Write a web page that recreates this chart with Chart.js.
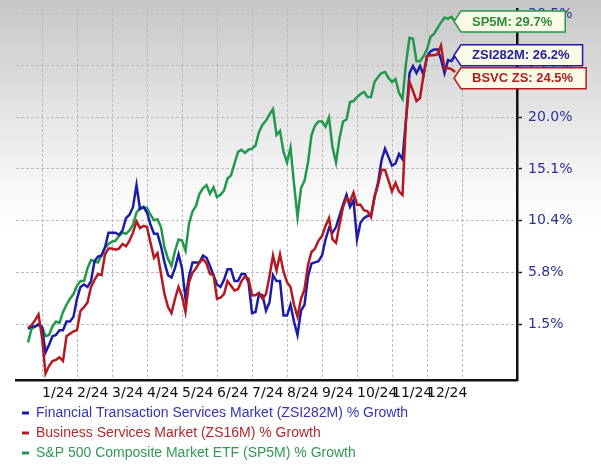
<!DOCTYPE html>
<html>
<head>
<meta charset="utf-8">
<script src="https://cdn.jsdelivr.net/npm/chart.js@4.4.1/dist/chart.umd.min.js"></script>
<style>
  html, body { margin: 0; padding: 0; }
  body {
    width: 601px; height: 470px; overflow: hidden;
    background: linear-gradient(to bottom, #c6c6c6 0px, #dcdcdc 80px, #ececec 140px, #f8f8f8 190px, #ffffff 235px);
  }
</style>
</head>
<body>
<canvas id="chart" width="601" height="470"></canvas>
<script>
"use strict";

// x runs in months from 1 Jan 2024; one sample every 0.1 month
const X_START = -0.4;
const X_STEP = 0.1;
const MONTH_LABELS = ["1/24", "2/24", "3/24", "4/24", "5/24", "6/24", "7/24", "8/24", "9/24", "10/24", "11/24", "12/24"];
const Y_TICKS = [1.5, 5.8, 10.4, 15.1, 20.0, 25.2, 30.5]; // % growth, log spaced

// % growth since start
const ZSI282M = [
  1.1, 1.3, 1.3, 1.5, 1.2, -0.8, -0.2, 0.5, 0.6, 1.0,
  1.0, 1.7, 1.7, 2.1, 3.6, 4.6, 4.8, 4.6, 5.1, 6.8,
  7.2, 7.3, 8.0, 9.3, 9.3, 9.3, 9.1, 9.5, 10.6, 10.9,
  11.6, 13.6, 11.4, 11.6, 11.1, 10.0, 9.2, 9.2, 8.1, 6.7,
  5.6, 5.4, 6.2, 7.4, 6.2, 3.6, 5.5, 6.7, 6.7, 6.7,
  7.3, 7.1, 6.4, 5.6, 4.8, 4.6, 5.2, 6.1, 6.1, 5.1,
  5.1, 5.7, 5.7, 5.0, 2.4, 2.5, 4.0, 3.9, 2.6, 3.3,
  5.6, 5.1, 5.1, 2.2, 2.2, 3.1, 1.7, 0.6, 2.6, 3.1,
  5.5, 6.6, 6.7, 6.8, 7.3, 8.7, 9.7, 9.3, 9.8, 10.8,
  11.8, 12.7, 11.6, 12.2, 8.7, 10.2, 10.6, 10.8, 10.8, 12.5,
  13.8, 15.9, 17.0, 16.2, 15.4, 15.6, 16.5, 16.0, 19.8, 24.4,
  25.1, 24.4, 25.1, 24.2, 26.1, 26.6, 26.8, 26.8, 25.8, 24.4,
  25.7, 25.6, 26.2,
];
const ZS16M = [
  1.2, 1.4, 1.8, 2.3, 0.4, -2.5, -1.9, -1.5, -1.4, -1.2,
  -1.5, 0.5, 0.7, 0.9, 1.0, 2.6, 2.9, 3.3, 4.6, 5.2,
  5.7, 5.6, 7.4, 7.9, 7.9, 7.8, 7.9, 8.3, 8.1, 8.6,
  9.3, 10.3, 9.7, 9.9, 9.8, 8.4, 7.1, 7.5, 5.7, 4.0,
  2.9, 2.4, 3.6, 4.6, 3.8, 2.5, 5.0, 5.8, 6.2, 6.7,
  7.0, 6.6, 5.7, 5.6, 3.6, 3.7, 4.0, 5.1, 4.7, 4.3,
  4.4, 5.1, 5.5, 5.3, 3.9, 3.9, 4.1, 3.6, 4.0, 5.5,
  7.3, 6.0, 7.4, 5.9, 5.0, 4.6, 3.1, 2.1, 3.6, 4.4,
  6.5, 7.6, 7.9, 8.6, 9.0, 9.9, 10.6, 8.7, 8.4, 10.0,
  11.6, 12.4, 12.1, 12.9, 11.8, 11.8, 11.3, 11.2, 10.7, 12.5,
  13.6, 15.0, 15.0, 14.0, 13.0, 13.8, 13.0, 12.7, 19.8, 23.5,
  22.6, 21.6, 21.9, 24.2, 26.1, 26.2, 26.2, 26.3, 27.2, 24.8,
  24.9, 24.8, 24.5,
];
const SP5M = [
  0.0, 1.1, 1.3, 1.4, 1.3, 0.5, 0.6, 1.3, 1.7, 1.6,
  2.5, 3.1, 3.6, 4.0, 4.7, 5.1, 5.1, 6.2, 6.9, 6.8,
  6.7, 7.3, 8.0, 8.3, 8.5, 8.6, 9.0, 9.3, 9.2, 9.5,
  10.0, 11.1, 11.5, 11.6, 11.5, 10.9, 10.4, 10.5, 9.8, 8.0,
  7.0, 6.4, 7.7, 8.7, 8.6, 7.7, 10.1, 11.2, 11.7, 12.8,
  13.3, 13.6, 12.8, 13.4, 12.5, 12.7, 13.1, 14.2, 14.5, 15.6,
  16.7, 16.9, 16.6, 16.9, 17.0, 17.3, 18.6, 19.3, 19.7, 20.3,
  20.8, 18.3, 18.7, 16.7, 15.7, 17.1, 13.7, 10.7, 13.3, 14.0,
  15.7, 18.3, 19.2, 19.6, 19.6, 19.1, 20.0, 17.1, 15.7, 18.0,
  19.6, 19.8, 21.5, 21.6, 22.0, 22.3, 22.5, 22.0, 22.0, 23.5,
  24.0, 24.4, 24.5, 23.9, 23.5, 23.8, 22.4, 21.8, 25.4, 28.0,
  27.9, 25.6, 25.6, 26.1, 26.8, 28.1, 28.4, 29.0, 29.6, 30.1,
  30.0, 30.2, 29.7,
];

// legend order
const SERIES = [
  { name: "Financial Transaction Services Market (ZSI282M) % Growth", tag: "ZSI282M", values: ZSI282M,
    color: "#1c1ca8", text: "#3434b0", tagText: "#2222a0" },
  { name: "Business Services Market (ZS16M) % Growth", tag: "BSVC ZS", values: ZS16M,
    color: "#b3191e", text: "#b02a2a", tagText: "#a82222" },
  { name: "S&P 500 Composite Market ETF (SP5M) % Growth", tag: "SP5M", values: SP5M,
    color: "#21994a", text: "#2f9a55", tagText: "#2e8b3e" },
];

const toPoints = (vals) => vals.map((v, i) => ({ x: X_START + i * X_STEP, y: 1 + v / 100 }));
const lastX = (vals) => X_START + (vals.length - 1) * X_STEP;

// pointed value tags at the right end of each line
const endTags = {
  id: "endTags",
  afterDatasetsDraw(chart) {
    const { ctx, scales: { x, y } } = chart;
    const H = 21, GAP = 2;
    const tags = SERIES.map((s) => {
      const last = s.values[s.values.length - 1];
      return { s, last, cy: y.getPixelForValue(1 + last / 100), tipX: x.getPixelForValue(lastX(s.values)) - 1 };
    }).sort((a, b) => a.cy - b.cy);
    let prevBottom = -Infinity;
    ctx.save();
    ctx.font = "bold 13px 'Liberation Sans', Arial, sans-serif";
    ctx.textBaseline = "middle";
    tags.forEach((t) => {
      const cy = Math.max(t.cy, prevBottom + GAP + H / 2);
      prevBottom = cy + H / 2;
      const text = `${t.s.tag}: ${t.last.toFixed(1)}%`;
      const left = t.tipX + 7;
      const right = t.tipX + 18 + ctx.measureText(text).width + 13;
      ctx.beginPath();
      ctx.moveTo(t.tipX, cy);
      ctx.lineTo(left, cy - H / 2);
      ctx.lineTo(right, cy - H / 2);
      ctx.lineTo(right, cy + H / 2);
      ctx.lineTo(left, cy + H / 2);
      ctx.closePath();
      ctx.fillStyle = "#fbfae6";
      ctx.fill();
      ctx.lineWidth = 1.5;
      ctx.strokeStyle = t.s.color;
      ctx.stroke();
      ctx.fillStyle = t.s.tagText;
      ctx.fillText(text, t.tipX + 18, cy + 0.5);
    });
    ctx.restore();
  },
};

// first dataset is drawn on top
const drawOrder = [SERIES[1], SERIES[0], SERIES[2]];

new Chart(document.getElementById("chart"), {
  type: "line",
  data: {
    datasets: drawOrder.map((s) => ({
      label: s.tag,
      data: toPoints(s.values),
      borderColor: s.color,
      borderWidth: 2.5,
      pointRadius: 0,
      tension: 0,
      fill: false,
    })),
  },
  options: {
    responsive: false,
    animation: false,
    layout: { padding: { left: 16, top: 9, right: 0, bottom: 0 } },
    scales: {
      x: {
        type: "linear",
        min: -0.743,
        max: 13.571,
        afterBuildTicks: (s) => { s.ticks = MONTH_LABELS.map((_, i) => ({ value: i })).concat([{ value: 12 }]); },
        afterFit: (s) => { s.height = 20; s.paddingLeft = 0; s.paddingRight = 0; },
        ticks: {
          align: "start",
          padding: 5,
          maxRotation: 0,
          autoSkip: false,
          color: "#111",
          font: { family: "'DejaVu Sans', Verdana, sans-serif", size: 14 },
          callback: (v, i) => MONTH_LABELS[i] || "",
        },
        grid: { color: "#bcbcbc", lineWidth: 1, drawTicks: false },
        border: { display: true, color: "#111", width: 2.5, dash: [3, 2] },
      },
      y: {
        type: "logarithmic",
        position: "right",
        min: 0.9713,
        max: 1.3102,
        afterBuildTicks: (s) => { s.ticks = Y_TICKS.map((p) => ({ value: 1 + p / 100 })); },
        afterFit: (s) => { s.width = 84; s.paddingTop = 0; s.paddingBottom = 0; },
        ticks: {
          padding: 6,
          color: "#2f2f99",
          font: { family: "'DejaVu Sans', Verdana, sans-serif", size: 14 },
          callback: (v, i) => Y_TICKS[i].toFixed(1) + "%",
        },
        grid: { color: "#bcbcbc", lineWidth: 1, tickLength: 5, tickColor: "#222", tickWidth: 1.5 },
        border: { display: true, color: "#111", width: 2.5, dash: [3, 2] },
      },
    },
    plugins: {
      tooltip: { enabled: false },
      legend: {
        position: "bottom",
        align: "start",
        labels: {
          usePointStyle: true,
          pointStyleWidth: 7,
          boxHeight: 7,
          padding: 6,
          font: { family: "'Liberation Sans', Arial, sans-serif", size: 14 },
          generateLabels: () =>
            SERIES.map((s) => ({
              text: s.name,
              fontColor: s.text,
              strokeStyle: s.color,
              fillStyle: s.color,
              lineWidth: 3,
              pointStyle: "line",
              hidden: false,
            })),
        },
      },
    },
  },
  plugins: [endTags],
});
</script>
</body>
</html>
